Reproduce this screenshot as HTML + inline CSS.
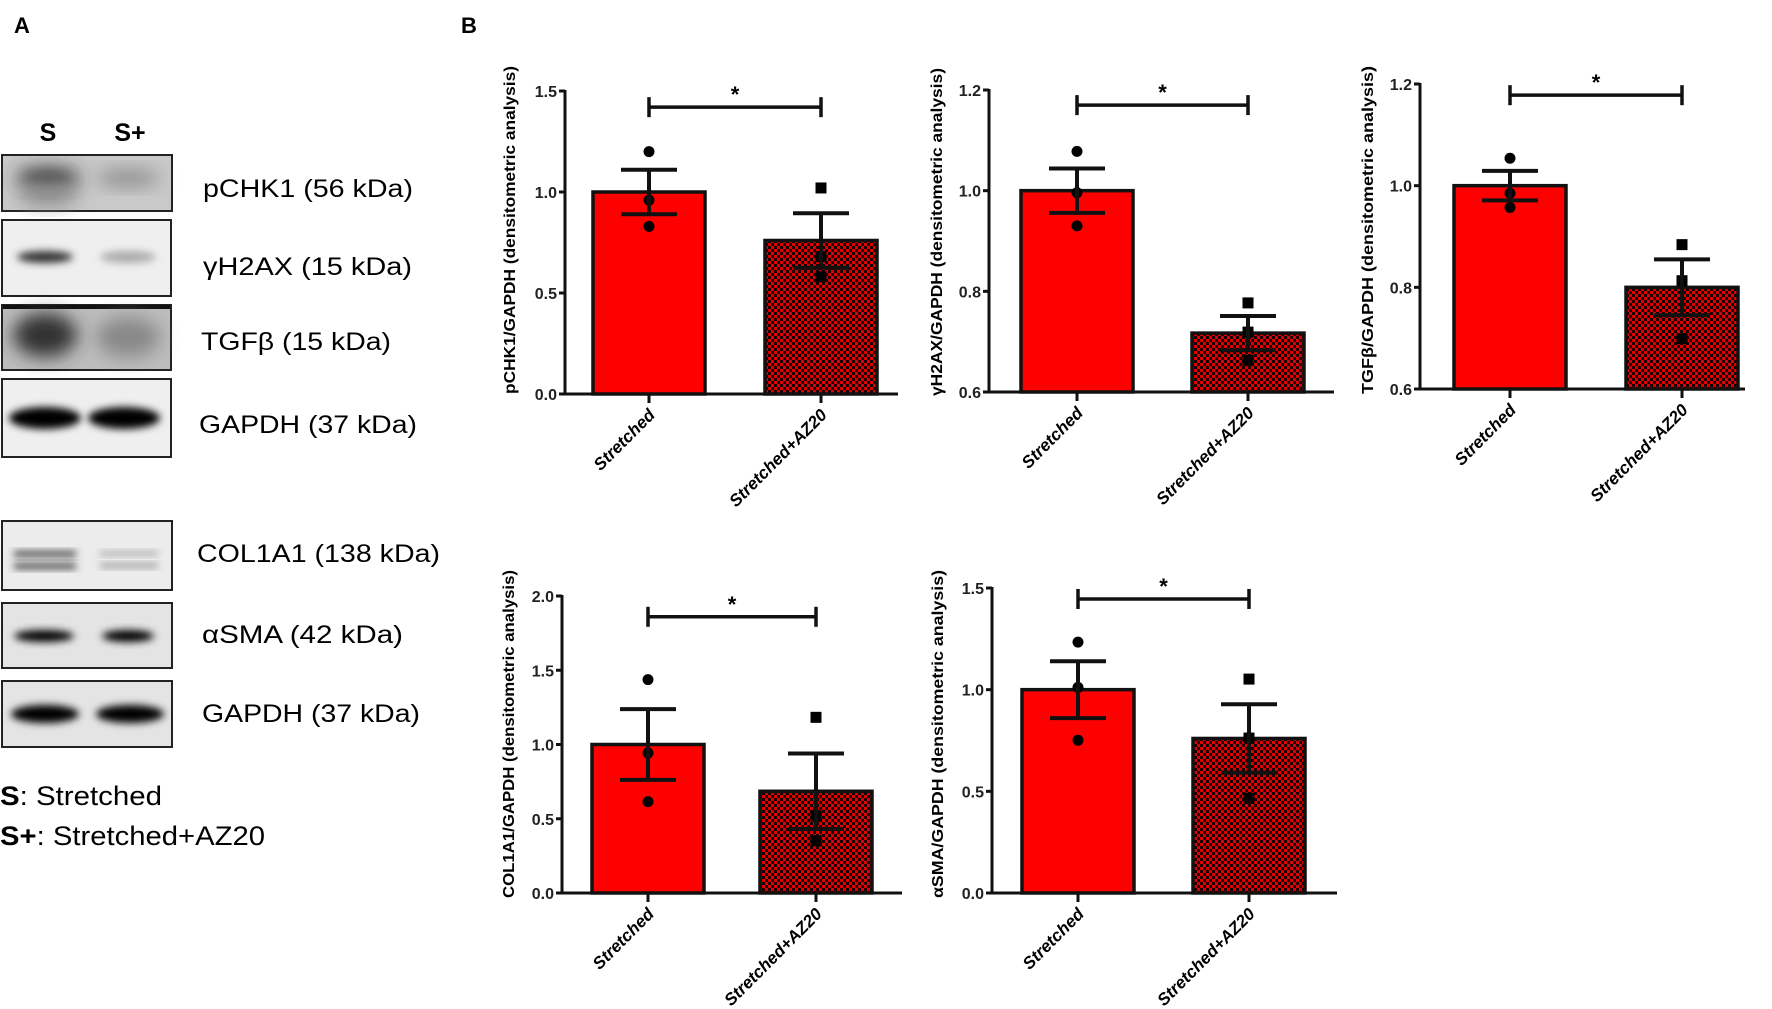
<!DOCTYPE html>
<html><head><meta charset="utf-8">
<style>
html,body{margin:0;padding:0;background:#fff;}
svg{display:block;font-family:"Liberation Sans",sans-serif;}
</style></head>
<body>
<svg id="fig" width="1772" height="1009" viewBox="0 0 1772 1009" xmlns="http://www.w3.org/2000/svg">
<defs>
  <pattern id="checker" width="6" height="6" patternUnits="userSpaceOnUse">
    <rect width="6" height="6" fill="#e00000"/>
    <rect width="3" height="3" fill="#1a0000"/>
    <rect x="3" y="3" width="3" height="3" fill="#1a0000"/>
  </pattern>
  <filter id="blur4" x="-30%" y="-60%" width="160%" height="220%"><feGaussianBlur stdDeviation="4"/></filter>
  <filter id="blur8" x="-30%" y="-60%" width="160%" height="220%"><feGaussianBlur stdDeviation="9"/></filter>
</defs>

<text x="14" y="33" font-size="22" font-weight="bold">A</text>
<text x="461" y="33" font-size="22" font-weight="bold">B</text>

<g id="blots">
  <text x="48" y="141" font-size="25" font-weight="bold" text-anchor="middle">S</text>
  <text x="130" y="141" font-size="25" font-weight="bold" text-anchor="middle">S+</text>

  <g>
    <rect x="2" y="155" width="170" height="56" fill="#c9c9c9" stroke="#222" stroke-width="2"/>
    <ellipse cx="48" cy="178" rx="32" ry="10" fill="#333" filter="url(#blur8)"/>
    <ellipse cx="48" cy="195" rx="30" ry="10" fill="#888" filter="url(#blur8)"/>
    <ellipse cx="128" cy="178" rx="32" ry="8" fill="#888" filter="url(#blur8)"/>
  </g>
  <text x="203" y="197" font-size="25" textLength="210" lengthAdjust="spacingAndGlyphs">pCHK1 (56 kDa)</text>

  <g>
    <rect x="2" y="220" width="169" height="76" fill="#efefef" stroke="#222" stroke-width="2"/>
    <ellipse cx="45" cy="257" rx="28" ry="6" fill="#333" filter="url(#blur4)"/>
    <ellipse cx="128" cy="257" rx="28" ry="6" fill="#aaa" filter="url(#blur4)"/>
  </g>
  <text x="203" y="275" font-size="25" textLength="209" lengthAdjust="spacingAndGlyphs">γH2AX (15 kDa)</text>

  <g>
    <rect x="2" y="305" width="169" height="65" fill="#bdbdbd" stroke="#222" stroke-width="2"/>
    <rect x="3" y="305" width="167" height="4" fill="#111"/>
    <ellipse cx="45" cy="335" rx="32" ry="22" fill="#333" filter="url(#blur8)"/>
    <ellipse cx="128" cy="337" rx="32" ry="20" fill="#888" filter="url(#blur8)"/>
  </g>
  <text x="201" y="350" font-size="25" textLength="190" lengthAdjust="spacingAndGlyphs">TGFβ (15 kDa)</text>

  <g>
    <rect x="2" y="379" width="169" height="78" fill="#efefef" stroke="#222" stroke-width="2"/>
    <ellipse cx="45" cy="418" rx="36" ry="11" fill="#000" filter="url(#blur4)"/>
    <ellipse cx="124" cy="418" rx="36" ry="11" fill="#000" filter="url(#blur4)"/>
  </g>
  <text x="199" y="433" font-size="25" textLength="218" lengthAdjust="spacingAndGlyphs">GAPDH (37 kDa)</text>

  <g>
    <rect x="2" y="521" width="170" height="69" fill="#ececec" stroke="#222" stroke-width="2"/>
    <rect x="14" y="551" width="62" height="6" fill="#444" filter="url(#blur4)"/>
    <rect x="14" y="563" width="62" height="6" fill="#444" filter="url(#blur4)"/>
    <rect x="100" y="551" width="58" height="5" fill="#aaa" filter="url(#blur4)"/>
    <rect x="100" y="563" width="58" height="5" fill="#999" filter="url(#blur4)"/>
  </g>
  <text x="197" y="562" font-size="25" textLength="243" lengthAdjust="spacingAndGlyphs">COL1A1 (138 kDa)</text>

  <g>
    <rect x="2" y="603" width="170" height="65" fill="#e4e4e4" stroke="#222" stroke-width="2"/>
    <ellipse cx="44" cy="636" rx="30" ry="6" fill="#000" filter="url(#blur4)"/>
    <ellipse cx="128" cy="636" rx="26" ry="6" fill="#000" filter="url(#blur4)"/>
  </g>
  <text x="202" y="643" font-size="25" textLength="201" lengthAdjust="spacingAndGlyphs">αSMA (42 kDa)</text>

  <g>
    <rect x="2" y="681" width="170" height="66" fill="#e4e4e4" stroke="#222" stroke-width="2"/>
    <ellipse cx="45" cy="714" rx="34" ry="9" fill="#000" filter="url(#blur4)"/>
    <ellipse cx="130" cy="714" rx="34" ry="9" fill="#000" filter="url(#blur4)"/>
  </g>
  <text x="202" y="722" font-size="25" textLength="218" lengthAdjust="spacingAndGlyphs">GAPDH (37 kDa)</text>

  <text x="0" y="805" font-size="27" textLength="162" lengthAdjust="spacingAndGlyphs"><tspan font-weight="bold">S</tspan>: Stretched</text>
  <text x="0" y="845" font-size="27" textLength="265" lengthAdjust="spacingAndGlyphs"><tspan font-weight="bold">S+</tspan>: Stretched+AZ20</text>
</g>
<g id="charts"></g>
</svg>

<script>
// ---- data ----
const categories = ["Stretched", "Stretched+AZ20"];

const pchk1Means = [1.0, 0.76];
const pchk1Sem = [0.11, 0.135];
const pchk1Points = [[1.20, 0.96, 0.83], [1.02, 0.68, 0.58]];
const pchk1Ticks = ["0.0", "0.5", "1.0", "1.5"];

const gh2axMeans = [1.0, 0.717];
const gh2axSem = [0.044, 0.034];
const gh2axPoints = [[1.078, 0.996, 0.93], [0.777, 0.719, 0.663]];
const gh2axTicks = ["0.6", "0.8", "1.0", "1.2"];

const tgfbMeans = [1.0, 0.80];
const tgfbSem = [0.029, 0.055];
const tgfbPoints = [[1.054, 0.985, 0.957], [0.884, 0.813, 0.699]];
const tgfbTicks = ["0.6", "0.8", "1.0", "1.2"];

const col1a1Means = [1.0, 0.685];
const col1a1Sem = [0.238, 0.254];
const col1a1Points = [[1.437, 0.943, 0.615], [1.183, 0.519, 0.352]];
const col1a1Ticks = ["0.0", "0.5", "1.0", "1.5", "2.0"];

const asmaMeans = [1.0, 0.76];
const asmaSem = [0.14, 0.168];
const asmaPoints = [[1.234, 1.011, 0.751], [1.052, 0.762, 0.466]];
const asmaTicks = ["0.0", "0.5", "1.0", "1.5"];

const sigLevels = [1.42, 1.17, 1.178, 1.86, 1.446];

// ---- layout (pixel geometry only) ----
const layouts = [
  {id:"pchk1", ax:565, y0:394, yTop:91, off:84, step:172, end:898, lx:515, ly:230, label:"pCHK1/GAPDH (densitometric analysis)"},
  {id:"gh2ax", ax:989, y0:392, yTop:90, off:88, step:171, end:1334, lx:942, ly:232, label:"γH2AX/GAPDH (densitometric analysis)"},
  {id:"tgfb", ax:1420, y0:389, yTop:84, off:90, step:172, end:1745, lx:1373, ly:230, label:"TGFβ/GAPDH (densitometric analysis)"},
  {id:"col1a1", ax:562, y0:893, yTop:596, off:86, step:168, end:902, lx:514, ly:734, label:"COL1A1/GAPDH (densitometric analysis)"},
  {id:"asma", ax:992, y0:893, yTop:588, off:86, step:171, end:1337, lx:943, ly:734, label:"αSMA/GAPDH (densitometric analysis)"}
];
const datasets = [
  {means:pchk1Means, sem:pchk1Sem, pts:pchk1Points, ticks:pchk1Ticks},
  {means:gh2axMeans, sem:gh2axSem, pts:gh2axPoints, ticks:gh2axTicks},
  {means:tgfbMeans, sem:tgfbSem, pts:tgfbPoints, ticks:tgfbTicks},
  {means:col1a1Means, sem:col1a1Sem, pts:col1a1Points, ticks:col1a1Ticks},
  {means:asmaMeans, sem:asmaSem, pts:asmaPoints, ticks:asmaTicks}
];

const NS = "http://www.w3.org/2000/svg";
function mk(tag, attrs, parent){
  const e = document.createElementNS(NS, tag);
  for (const k in attrs) e.setAttribute(k, attrs[k]);
  parent.appendChild(e);
  return e;
}
const root = document.getElementById("charts");

layouts.forEach((L, ci) => {
  const D = datasets[ci];
  const tmin = parseFloat(D.ticks[0]), tmax = parseFloat(D.ticks[D.ticks.length-1]);
  const y = v => L.y0 - (v - tmin) / (tmax - tmin) * (L.y0 - L.yTop);
  const x = i => L.ax + L.off + i * L.step;
  const bw = 112;
  const g = mk("g", {}, root);
  
  

  D.means.forEach((m, i) => {
    const r = mk("rect", {x: x(i) - bw/2, y: y(m), width: bw, height: L.y0 - y(m),
      fill: i === 0 ? "#ff0000" : "url(#checker)", stroke: "#111", "stroke-width": 3.5}, g);
    
    
  });
  D.pts.forEach((arr, i) => {
    arr.forEach(v => {
      let p;
      if (i === 0) p = mk("circle", {cx: x(i), cy: y(v), r: 5.5, fill: "#000"}, g);
      else p = mk("rect", {x: x(i) - 5.5, y: y(v) - 5.5, width: 11, height: 11, fill: "#000"}, g);
      
      
    });
  });
  D.means.forEach((m, i) => {
    const eg = mk("g", {stroke: "#111", "stroke-width": 4, fill: "none"}, g);
    
    
    mk("line", {x1: x(i), x2: x(i), y1: y(m - D.sem[i]), y2: y(m + D.sem[i])}, eg);
    mk("line", {x1: x(i) - 28, x2: x(i) + 28, y1: y(m + D.sem[i]), y2: y(m + D.sem[i])}, eg);
    mk("line", {x1: x(i) - 28, x2: x(i) + 28, y1: y(m - D.sem[i]), y2: y(m - D.sem[i])}, eg);
  });
  const axg = mk("g", {stroke: "#111", "stroke-width": 3}, g);
  
  
  mk("line", {x1: L.ax, x2: L.ax, y1: L.yTop - 1, y2: L.y0 + 1.5}, axg);
  mk("line", {x1: L.ax, x2: L.end, y1: L.y0, y2: L.y0}, axg);
  D.ticks.forEach(t => {
    const v = parseFloat(t);
    mk("line", {x1: L.ax - 6, x2: L.ax, y1: y(v), y2: y(v)}, axg);
    const tx = mk("text", {x: L.ax - 8, y: y(v) + 6, "font-size": 16, "font-weight": "bold", "text-anchor": "end", fill: "#222"}, g);
    tx.textContent = t;
    
    
  });
  categories.forEach((c, i) => {
    mk("line", {x1: x(i), x2: x(i), y1: L.y0, y2: L.y0 + 9}, axg);
    const tx = mk("text", {x: 0, y: 0, "font-size": 17, "font-weight": "bold", "font-style": "italic", "text-anchor": "end",
      transform: "translate(" + (x(i) + 7) + "," + (L.y0 + 22) + ") rotate(-45)"}, g);
    tx.textContent = c;
    
    
  });
  const yt = mk("text", {x: 0, y: 0, "font-size": 16, "font-weight": "bold", "text-anchor": "middle",
    transform: "translate(" + L.lx + "," + L.ly + ") rotate(-90)", textLength: 328, lengthAdjust: "spacingAndGlyphs"}, g);
  yt.textContent = L.label;
  
  
  const sy = y(sigLevels[ci]);
  const sg = mk("g", {stroke: "#111", "stroke-width": 3.5}, g);
  
  
  mk("line", {x1: x(0), x2: x(1), y1: sy, y2: sy}, sg);
  mk("line", {x1: x(0), x2: x(0), y1: sy - 10, y2: sy + 10}, sg);
  mk("line", {x1: x(1), x2: x(1), y1: sy - 10, y2: sy + 10}, sg);
  const st = mk("text", {x: (x(0) + x(1)) / 2, y: sy - 5, "font-size": 22, "font-weight": "bold", "text-anchor": "middle"}, g);
  st.textContent = "*";
  
  
});
</script>
</body></html>
